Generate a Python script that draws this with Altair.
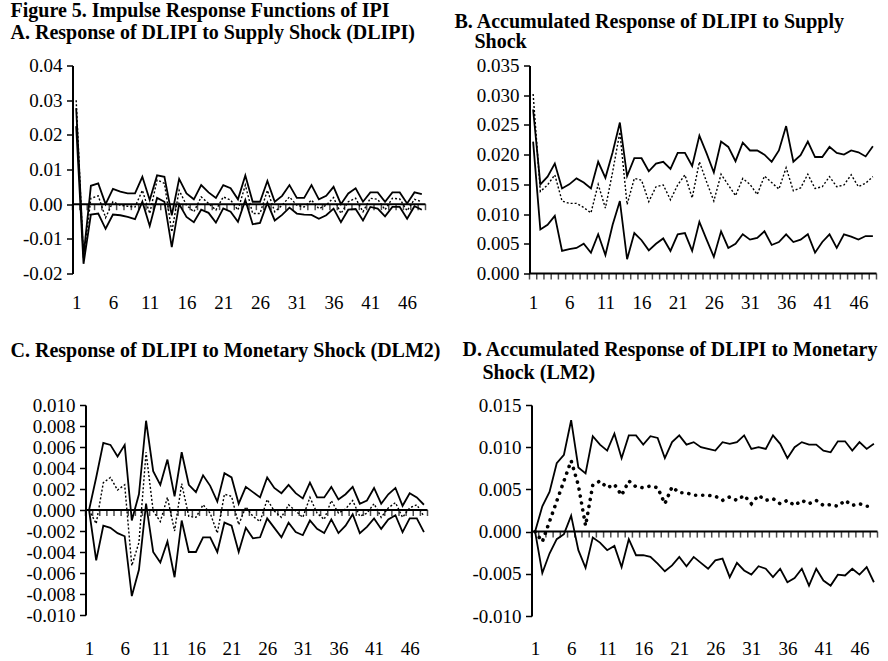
import altair as alt
import pandas as pd

periods = list(range(1, 49))
x_tick_labels = [1, 6, 11, 16, 21, 26, 31, 36, 41, 46]
boundaries = [p - 0.5 for p in range(1, 50)]

# Panel A: Response of DLIPI to Supply Shock (DLIPI)
a_upper = [0.0277, -0.0150, 0.0053, 0.0060, 0.0000, 0.0044, 0.0036, 0.0031, 0.0031, 0.0079,
           0.0012, 0.0083, 0.0079, -0.0032, 0.0073, 0.0031, 0.0014, 0.0055, 0.0034, 0.0018,
           0.0055, 0.0046, 0.0014, 0.0083, 0.0007, 0.0007, 0.0067, 0.0007, 0.0024, 0.0055,
           0.0018, 0.0018, 0.0055, 0.0014, 0.0024, 0.0050, 0.0000, 0.0031, 0.0046, 0.0007,
           0.0034, 0.0034, 0.0007, 0.0034, 0.0034, 0.0002, 0.0034, 0.0029]
a_mid = [0.0300, -0.0160, 0.0017, 0.0024, -0.0039, 0.0007, -0.0003, -0.0006, -0.0008, 0.0040,
         -0.0027, 0.0070, 0.0060, -0.0080, 0.0040, -0.0003, -0.0022, 0.0021, 0.0002, -0.0017,
         0.0021, 0.0012, -0.0017, 0.0055, -0.0027, -0.0027, 0.0040, -0.0022, -0.0003, 0.0021,
         -0.0003, -0.0008, 0.0012, -0.0013, -0.0003, 0.0019, -0.0027, 0.0007, 0.0017, -0.0022,
         0.0017, 0.0014, -0.0016, 0.0017, 0.0015, -0.0019, 0.0014, 0.0007]
a_lower = [0.0225, -0.0172, -0.0030, -0.0027, -0.0071, -0.0030, -0.0032, -0.0037, -0.0043, 0.0007,
           -0.0063, 0.0018, 0.0007, -0.0124, 0.0000, -0.0037, -0.0052, -0.0016, -0.0025, -0.0053,
           -0.0012, -0.0022, -0.0051, 0.0012, -0.0058, -0.0054, 0.0004, -0.0047, -0.0031, -0.0010,
           -0.0027, -0.0030, -0.0031, -0.0042, -0.0032, -0.0013, -0.0052, -0.0016, -0.0014, -0.0047,
           -0.0008, -0.0013, -0.0035, -0.0008, -0.0008, -0.0042, -0.0006, -0.0016]

# Panel B: Accumulated Response of DLIPI to Supply Shock
b_upper = [0.0276, 0.0150, 0.0163, 0.0185, 0.0143, 0.0150, 0.0160, 0.0153, 0.0143, 0.0188,
           0.0161, 0.0204, 0.0254, 0.0164, 0.0194, 0.0194, 0.0172, 0.0185, 0.0188, 0.0176,
           0.0203, 0.0203, 0.0181, 0.0232, 0.0202, 0.0170, 0.0222, 0.0213, 0.0189, 0.0220,
           0.0207, 0.0207, 0.0200, 0.0188, 0.0207, 0.0248, 0.0188, 0.0199, 0.0222, 0.0196,
           0.0196, 0.0213, 0.0203, 0.0200, 0.0207, 0.0204, 0.0197, 0.0214]
b_mid = [0.0302, 0.0138, 0.0149, 0.0166, 0.0122, 0.0118, 0.0118, 0.0111, 0.0102, 0.0150,
         0.0110, 0.0171, 0.0238, 0.0116, 0.0160, 0.0157, 0.0121, 0.0146, 0.0149, 0.0124,
         0.0149, 0.0166, 0.0127, 0.0188, 0.0154, 0.0122, 0.0167, 0.0149, 0.0131, 0.0160,
         0.0150, 0.0133, 0.0164, 0.0153, 0.0142, 0.0178, 0.0139, 0.0144, 0.0167, 0.0143,
         0.0146, 0.0163, 0.0146, 0.0149, 0.0166, 0.0146, 0.0152, 0.0163]
b_lower = [0.0222, 0.0074, 0.0082, 0.0097, 0.0038, 0.0041, 0.0043, 0.0050, 0.0035, 0.0066,
           0.0031, 0.0082, 0.0122, 0.0024, 0.0068, 0.0056, 0.0039, 0.0050, 0.0059, 0.0038,
           0.0066, 0.0068, 0.0038, 0.0087, 0.0057, 0.0028, 0.0071, 0.0043, 0.0050, 0.0066,
           0.0057, 0.0060, 0.0071, 0.0048, 0.0053, 0.0066, 0.0053, 0.0057, 0.0066, 0.0035,
           0.0053, 0.0066, 0.0043, 0.0066, 0.0062, 0.0057, 0.0063, 0.0063]

# Panel C: Response of DLIPI to Monetary Shock (DLM2)
c_upper = [0.0000, 0.0031, 0.0064, 0.0062, 0.0051, 0.0062, -0.0010, 0.0015, 0.0085, 0.0037,
           0.0024, 0.0048, 0.0013, 0.0055, 0.0024, 0.0017, 0.0033, 0.0023, 0.0008, 0.0035,
           0.0031, 0.0006, 0.0022, 0.0017, 0.0012, 0.0031, 0.0021, 0.0016, 0.0024, 0.0016,
           0.0011, 0.0026, 0.0012, 0.0012, 0.0022, 0.0010, 0.0015, 0.0022, 0.0006, 0.0009,
           0.0021, 0.0006, 0.0015, 0.0021, 0.0004, 0.0016, 0.0012, 0.0005]
c_mid = [0.0000, -0.0013, 0.0026, 0.0031, 0.0019, 0.0024, -0.0053, -0.0031, 0.0055, -0.0001,
         -0.0011, 0.0012, -0.0020, 0.0025, -0.0006, -0.0007, 0.0005, -0.0003, -0.0022, 0.0015,
         0.0013, -0.0014, 0.0003, -0.0006, -0.0011, 0.0010, -0.0001, -0.0007, 0.0005, -0.0001,
         -0.0007, 0.0012, -0.0003, -0.0009, 0.0009, -0.0003, 0.0001, 0.0009, -0.0006, -0.0003,
         0.0006, -0.0007, 0.0002, 0.0007, -0.0007, 0.0002, 0.0005, -0.0006]
c_lower = [0.0000, -0.0048, -0.0015, -0.0017, -0.0022, -0.0025, -0.0082, -0.0057, 0.0006, -0.0040,
           -0.0050, -0.0030, -0.0064, -0.0010, -0.0040, -0.0040, -0.0026, -0.0026, -0.0040, -0.0012,
           -0.0015, -0.0040, -0.0017, -0.0027, -0.0026, -0.0008, -0.0017, -0.0026, -0.0012, -0.0021,
           -0.0024, -0.0010, -0.0018, -0.0022, -0.0009, -0.0022, -0.0015, -0.0004, -0.0022, -0.0016,
           -0.0008, -0.0018, -0.0009, -0.0005, -0.0021, -0.0008, -0.0008, -0.0021]

# Panel D: Accumulated Response of DLIPI to Monetary Shock (LM2)
d_upper = [0.0000, 0.0030, 0.0047, 0.0081, 0.0091, 0.0132, 0.0076, 0.0069, 0.0113, 0.0103,
           0.0096, 0.0116, 0.0087, 0.0114, 0.0114, 0.0103, 0.0113, 0.0111, 0.0087, 0.0106,
           0.0114, 0.0103, 0.0106, 0.0100, 0.0098, 0.0096, 0.0106, 0.0104, 0.0106, 0.0114,
           0.0098, 0.0100, 0.0098, 0.0114, 0.0104, 0.0087, 0.0100, 0.0106, 0.0103, 0.0103,
           0.0096, 0.0094, 0.0107, 0.0107, 0.0096, 0.0106, 0.0098, 0.0104]
d_mid = [0.0000, -0.0012, 0.0012, 0.0036, 0.0060, 0.0084, 0.0055, 0.0007, 0.0055, 0.0060,
         0.0052, 0.0056, 0.0043, 0.0060, 0.0053, 0.0052, 0.0054, 0.0052, 0.0033, 0.0053,
         0.0046, 0.0046, 0.0043, 0.0043, 0.0043, 0.0042, 0.0037, 0.0041, 0.0037, 0.0043,
         0.0033, 0.0043, 0.0037, 0.0039, 0.0033, 0.0037, 0.0031, 0.0037, 0.0033, 0.0037,
         0.0031, 0.0032, 0.0030, 0.0037, 0.0031, 0.0033, 0.0030, 0.0030]
d_lower = [0.0000, -0.0049, -0.0026, -0.0009, -0.0003, 0.0019, -0.0022, -0.0043, -0.0007, -0.0013,
           -0.0022, -0.0017, -0.0042, -0.0009, -0.0028, -0.0028, -0.0030, -0.0038, -0.0047, -0.0040,
           -0.0030, -0.0041, -0.0030, -0.0037, -0.0044, -0.0034, -0.0032, -0.0054, -0.0037, -0.0046,
           -0.0051, -0.0041, -0.0044, -0.0054, -0.0044, -0.0060, -0.0055, -0.0044, -0.0064, -0.0044,
           -0.0058, -0.0064, -0.0051, -0.0052, -0.0044, -0.0051, -0.0042, -0.0060]

FONT = "Liberation Serif"
LABEL_SIZE = 19
INDENT = "\u200b" + "\u00a0" * 4


def make_panel(upper, mid, lower, ydomain, yticks, decimals, width, height,
               title, lab_pad, round_dots=False):
    xscale = alt.Scale(domain=[0.5, 48.5], nice=False, zero=False)
    yscale = alt.Scale(domain=ydomain, nice=False, zero=False)
    df_b = pd.DataFrame({"period": periods * 2, "value": upper + lower,
                         "band": ["Upper"] * 48 + ["Lower"] * 48})
    df_m = pd.DataFrame({"period": periods, "value": mid})
    df_t = pd.DataFrame({"b": boundaries})
    label_expr = ("(datum.value < 0 ? '-' : '') + format(abs(datum.value), '.%df')" % decimals)
    xenc = alt.X("period:Q", scale=xscale,
                 axis=alt.Axis(values=x_tick_labels, tickCount=60, domain=False, ticks=False,
                               grid=False, labelPadding=lab_pad, labelFont=FONT,
                               labelFontSize=LABEL_SIZE, labelColor="black", title=None,
                               labelFlush=False, labelOverlap=False))
    yenc = alt.Y("value:Q", scale=yscale,
                 axis=alt.Axis(values=yticks, tickCount=60, labelExpr=label_expr, grid=False,
                               domainColor="black", domainWidth=2, tickColor="black",
                               tickWidth=1.5, tickSize=6, labelPadding=4.5, labelFont=FONT,
                               labelFontSize=LABEL_SIZE, labelColor="black", title=None,
                               labelFlush=False, labelOverlap=False))
    bands = alt.Chart(df_b).mark_line(color="black", strokeWidth=1.8).encode(
        x=xenc, y=yenc, detail="band:N")
    if round_dots:
        mline = alt.Chart(df_m).mark_line(color="black", strokeWidth=3.6,
                                          strokeDash=[0.1, 7], strokeCap="round")
    else:
        mline = alt.Chart(df_m).mark_line(color="black", strokeWidth=1.4, strokeDash=[2, 2])
    mline = mline.encode(x=alt.X("period:Q", scale=xscale), y=alt.Y("value:Q", scale=yscale))
    zero = alt.Chart(pd.DataFrame({"z": [0.0]})).mark_rule(color="black", strokeWidth=2).encode(
        y=alt.Y("z:Q", scale=yscale))
    ticks = alt.Chart(df_t).mark_tick(color="black", orient="vertical", size=6,
                                      thickness=1.5, yOffset=3).encode(
        x=alt.X("b:Q", scale=xscale), y=alt.datum(0))
    return alt.layer(bands, mline, zero, ticks).properties(
        width=width, height=height, title=title)


def ttl(lines, dx, dy, line_height):
    return alt.TitleParams(text=lines, anchor="start", frame="group", dx=dx, dy=dy,
                           font=FONT, fontSize=20, fontWeight="bold", color="black",
                           lineHeight=line_height, offset=0)


def spacer(w):
    return alt.Chart(pd.DataFrame({"s": [0]})).mark_point(opacity=0).encode(
        x=alt.value(0), y=alt.value(0)).properties(width=w, height=10)


panel_a = make_panel(a_upper, a_mid, a_lower, [-0.02, 0.04],
                     [-0.02, -0.01, 0.0, 0.01, 0.02, 0.03, 0.04], 2, 353, 208,
                     ttl(["Figure 5. Impulse Response Functions of IPI",
                          "A. Response of DLIPI to Supply Shock (DLIPI)"], -62, -13, 22.6), 20)
panel_b = make_panel(b_upper, b_mid, b_lower, [0.0, 0.035],
                     [0.0, 0.005, 0.01, 0.015, 0.02, 0.025, 0.03, 0.035], 3, 347, 208,
                     ttl(["B. Accumulated Response of DLIPI to Supply",
                          INDENT + "Shock"], -75, -5, 20), 20)
panel_c = make_panel(c_upper, c_mid, c_lower, [-0.01, 0.01],
                     [-0.01, -0.008, -0.006, -0.004, -0.002, 0.0, 0.002, 0.004, 0.006,
                      0.008, 0.01], 3, 342, 210,
                     ttl("C. Response of DLIPI to Monetary Shock (DLM2)", -75, -35, 22), 24)
panel_d = make_panel(d_upper, d_mid, d_lower, [-0.01, 0.015],
                     [-0.01, -0.005, 0.0, 0.005, 0.01, 0.015], 3, 346, 211,
                     ttl(["D. Accumulated Response of DLIPI to Monetary",
                          INDENT + "Shock (LM2)"], -69, -13, 22.6), 23, round_dots=True)

row1 = alt.hconcat(panel_a, panel_b, spacing=104, bounds="flush")
row2 = alt.hconcat(spacer(13), panel_c, spacer(104), panel_d, spacing=0, bounds="flush")

chart = alt.vconcat(row1, row2, spacing=27.5).configure_view(strokeWidth=0).properties(
    padding={"left": 10.5, "top": 0.5, "right": 4, "bottom": 4}, background="white")

chart.save("out.html", embed_options={"renderer": "svg", "actions": False})
